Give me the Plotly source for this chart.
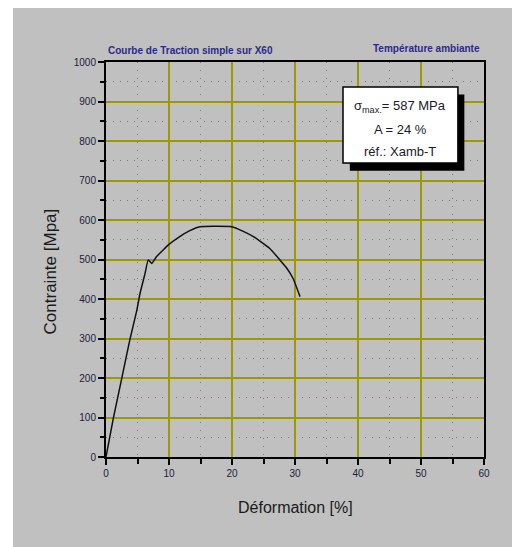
import plotly.graph_objects as go

# Data (strain %, stress MPa)
strain = [0, 1.16, 2.5, 3.8, 4.9, 5.4, 6.2, 6.7, 7.25, 8.0, 9.0, 9.9, 11.7, 13.3, 14.9, 17.0, 19.95, 21.7, 23.4, 26.0, 27.6, 28.7, 29.7, 30.8]
stress = [0, 98, 199, 298, 372, 414, 465, 499, 490, 507, 523, 537, 558, 573, 583, 584, 583, 572, 558, 528, 499, 478, 452, 406]

title_left = "Courbe de Traction simple sur X60"
title_right = "Température ambiante"
info_lines = ["σ<sub>max.</sub>= 587 MPa", "A = 24 %", "réf.: Xamb-T"]
x_title = "Déformation [%]"
y_title = "Contrainte [Mpa]"

olive = "#9c9a00"
navy = "#2a2a8c"
font_fam = "Liberation Sans, Arial, sans-serif"

fig = go.Figure()
fig.add_trace(go.Scatter(x=strain, y=stress, mode="lines", line_shape="spline",
                         line=dict(color="#111111", width=1.5, smoothing=0.4), showlegend=False))

axis_common = dict(
    showline=True, linecolor="black", linewidth=2, mirror=True,
    ticks="outside", ticklen=6, tickcolor="black", tickwidth=1.5,
    showgrid=True, gridcolor=olive, gridwidth=1.5,
    zeroline=False,
    tickfont=dict(family=font_fam, size=10, color="#20203a"),
)

fig.update_xaxes(range=[0, 60], dtick=10, **axis_common,
                 minor=dict(dtick=5, ticks="outside", ticklen=5, tickcolor="black",
                            showgrid=True, gridcolor="#7a7a7a", gridwidth=1, griddash="1px,7px"))
fig.update_yaxes(range=[0, 1000], dtick=100, **axis_common,
                 minor=dict(dtick=50, ticks="outside", ticklen=4, tickcolor="black",
                            showgrid=True, gridcolor="#7a7a7a", gridwidth=1, griddash="1px,6px"))

shapes = [
    # gray background panel
    dict(type="rect", xref="paper", yref="paper", x0=-0.246, x1=1.09, y0=-0.235, y1=1.139,
         fillcolor="#c0c0c0", line=dict(width=0), layer="below"),
    # box shadow
    dict(type="rect", xref="paper", yref="paper", x0=0.645, x1=0.948, y0=0.725, y1=0.918,
         fillcolor="black", line=dict(width=0), layer="above"),
    # info box
    dict(type="rect", xref="paper", yref="paper", x0=0.627, x1=0.931, y0=0.744, y1=0.937,
         fillcolor="white", line=dict(color="black", width=1.5), layer="above"),
]

annotations = [
    dict(text=title_left, xref="paper", yref="paper", x=0.0, y=1.028, xanchor="left", yanchor="middle",
         showarrow=False, font=dict(family=font_fam, size=10, color=navy, weight="bold")),
    dict(text=title_right, xref="paper", yref="paper", x=0.995, y=1.035, xanchor="right", yanchor="middle",
         showarrow=False, font=dict(family=font_fam, size=10, color=navy, weight="bold")),
    dict(text=x_title, xref="paper", yref="paper", x=0.5, y=-0.128, xanchor="center", yanchor="middle",
         showarrow=False, font=dict(family=font_fam, size=16, color="#1a1a1a")),
    dict(text=y_title, xref="paper", yref="paper", x=-0.148, y=0.47, xanchor="center", yanchor="middle",
         textangle=-90, showarrow=False, font=dict(family=font_fam, size=17, color="#1a1a1a")),
]
ys = [0.887, 0.83, 0.773]
for t, yy in zip(info_lines, ys):
    annotations.append(dict(text=t, xref="paper", yref="paper", x=0.779, y=yy, xanchor="center",
                            yanchor="middle", showarrow=False,
                            font=dict(family=font_fam, size=13, color="#1a1a2a")))

fig.update_layout(
    width=512, height=539,
    margin=dict(l=98, r=36, t=54, b=90),
    paper_bgcolor="white", plot_bgcolor="rgba(0,0,0,0)",
    shapes=shapes, annotations=annotations, showlegend=False,
)

fig.write_html("out.html")
